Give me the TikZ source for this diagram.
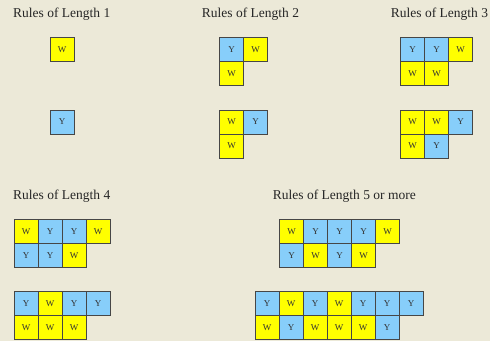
\documentclass[tikz,border=0pt]{standalone}
\usepackage{fontspec}
\setmainfont{Liberation Serif}
\definecolor{bgc}{RGB}{236,233,216}
\definecolor{ycol}{RGB}{255,255,0}
\definecolor{bcol}{RGB}{135,206,250}
\definecolor{edgec}{RGB}{70,70,70}
\definecolor{txtc}{RGB}{50,50,50}
\tikzset{
  tilebase/.style={draw=edgec, line width=1pt, minimum width=24pt, minimum height=24pt,
    inner sep=0pt, outer sep=0pt, font=\fontsize{9}{9}\selectfont, text=txtc},
  tileW/.style={tilebase, fill=ycol},
  tileY/.style={tilebase, fill=bcol},
  ttl/.style={anchor=base west, inner sep=0pt, font=\fontsize{13.5}{14}\selectfont, text=black!85}
}
\newcommand\tilerow[4]{%
  \foreach \c [count=\i] in {#4} {
    \node[tile\c] (#1-\i) at ({#2+12+24*(\i-1)},{#3+12}) {\c};
  }%
}
\begin{document}
\begin{tikzpicture}[x=1pt,y=-1pt]
\fill[bgc] (0,0) rectangle (490,341);
\useasboundingbox (0,0) rectangle (490,341);

\node[ttl] (t1) at (13,17.3) {Rules of Length 1};
\node[ttl] (t2) at (201.7,17.3) {Rules of Length 2};
\node[ttl] (t3) at (390.7,17.3) {Rules of Length 3};
\node[ttl] (t4) at (13,199) {Rules of Length 4};
\node[ttl] (t5) at (272.7,199) {Rules of Length 5 or more};

% Length 1
\tilerow{aa}{50}{37.5}{W}
\tilerow{ab}{50}{110}{Y}
% Length 2
\tilerow{ba}{219.5}{37.5}{Y,W}
\tilerow{bb}{219.5}{61.5}{W}
\tilerow{bc}{219.5}{110}{W,Y}
\tilerow{bd}{219.5}{134}{W}
% Length 3
\tilerow{ca}{400.5}{37.5}{Y,Y,W}
\tilerow{cb}{400.5}{61.5}{W,W}
\tilerow{cc}{400.5}{110}{W,W,Y}
\tilerow{cd}{400.5}{134}{W,Y}
% Length 4
\tilerow{da}{14}{219.5}{W,Y,Y,W}
\tilerow{db}{14}{243.5}{Y,Y,W}
\tilerow{dc}{14}{291.5}{Y,W,Y,Y}
\tilerow{dd}{14}{315.5}{W,W,W}
% Length 5 or more
\tilerow{ea}{279.5}{219.5}{W,Y,Y,Y,W}
\tilerow{eb}{279.5}{243.5}{Y,W,Y,W}
\tilerow{ec}{255}{291.5}{Y,W,Y,W,Y,Y,Y}
\tilerow{ed}{255}{315.5}{W,Y,W,W,W,Y}
\end{tikzpicture}
\end{document}
